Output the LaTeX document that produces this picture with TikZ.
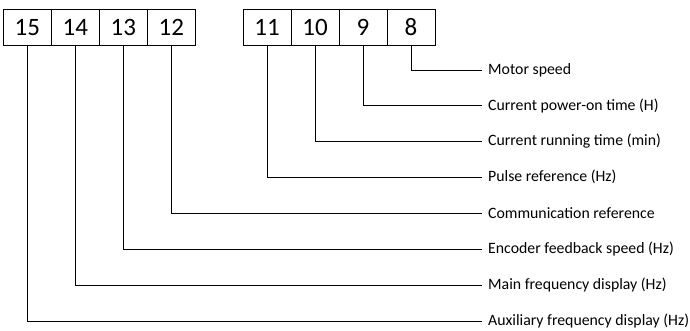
\documentclass[tikz,border=0pt]{standalone}
\usepackage{fontspec}
\setmainfont{Carlito}
\begin{document}
\begin{tikzpicture}[x=1pt,y=-1pt,
  bit/.style={draw,line width=0.8pt,minimum width=48pt,minimum height=36pt,inner sep=0pt,font=\fontsize{25}{25}\selectfont},
  lbl/.style={anchor=west,inner sep=0pt,font=\fontsize{15.8}{17}\selectfont},
  wire/.style={line width=0.8pt}]
\useasboundingbox (0,0) rectangle (690,330);
\foreach \n/\x in {15/27.3,14/75.3,13/123.3,12/171.3,11/267,10/315,9/363,8/411}
  \node[bit] (b\n) at (\x,27.3) {\n};
\foreach \n/\y/\t in {8/70/Motor speed,9/105.6/Current power-on time (H),10/141.5/Current running time (min),11/177.3/Pulse reference (Hz),12/213.2/Communication reference,13/249.1/Encoder feedback speed (Hz),14/285/Main frequency display (Hz),15/320.9/Auxiliary frequency display (Hz)}
{
  \node[lbl] (t\n) at (488,\y) {\t};
  \coordinate (e\n) at (481.5,\y);
  \draw[wire] (b\n.south) |- (e\n);
}
\end{tikzpicture}
\end{document}
